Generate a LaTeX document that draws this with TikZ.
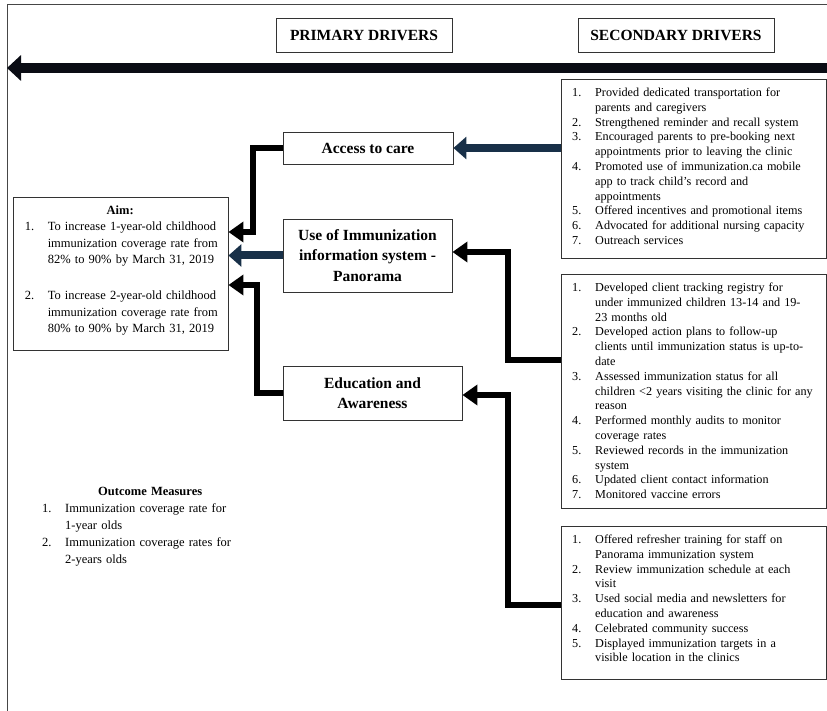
\documentclass[tikz,border=0pt]{standalone}
\usepackage{fontspec}
\setmainfont{Liberation Serif}
\usepackage{xcolor}
\usetikzlibrary{arrows.meta,positioning,calc}
\definecolor{navy}{RGB}{24,48,72}
\definecolor{barblack}{RGB}{10,12,20}
\definecolor{framegray}{RGB}{70,70,70}

\newcommand\secfont{\fontsize{12.2}{14.8}\selectfont}
\newcommand\aimfont{\fontsize{12.5}{16.5}\selectfont}
% numbered list, #1 = extra gap between items, #2 = left margin
\newenvironment{numlist}[2]{%
  \begin{list}{\arabic{enumi}.}{\usecounter{enumi}%
    \setlength\leftmargin{#2}\setlength\labelwidth{19pt}\setlength\labelsep{4pt}%
    \setlength\itemsep{#1}\setlength\parsep{0pt}\setlength\topsep{0pt}\setlength\partopsep{0pt}%
    \renewcommand\makelabel[1]{##1\hfil}}\raggedright}
  {\end{list}}

\tikzset{
  framebox/.style={draw=black!80, line width=0.9pt},
  hdbox/.style={framebox, font=\bfseries\fontsize{15.5}{18}\selectfont, inner sep=0pt, minimum height=34pt},
  pribox/.style={framebox, font=\bfseries\fontsize{15.5}{20.5}\selectfont, align=center, inner sep=0pt},
  secbox/.style={framebox, anchor=north west, minimum width=265pt, inner sep=0pt},
  seclist/.style={anchor=north west, text width=254pt, inner xsep=8pt, inner ysep=2.5pt, font=\secfont},
  navyarrow/.style={draw=navy, line width=8pt, -{Triangle[length=13pt,width=22pt]}},
  blackarrow/.style={draw=black, line width=6pt, -{Triangle[length=15pt,width=20pt]}},
}

\begin{document}
\begin{tikzpicture}[x=1pt, y=-1pt]
\useasboundingbox (0,0) rectangle (827,711);
\draw[framegray, line width=1pt] (7.5,711) -- (7.5,5) -- (827,5);

% headers and main arrow
\node[hdbox, minimum width=176pt] (prim) at (364,35) {PRIMARY DRIVERS};
\node[hdbox, minimum width=196pt] (sec) at (676,35) {SECONDARY DRIVERS};
\coordinate (barR) at (827,68);
\coordinate (barL) at (7,68);
\draw[barblack, line width=9.5pt, -{Triangle[length=14pt,width=25pt]}] (barR) -- (barL);

% aim and outcome
\node[framebox, minimum width=215pt, minimum height=153pt] (aim) at (120.5,273.5) {};
\node[anchor=north west, text width=203pt, inner xsep=6pt, inner ysep=9pt, font=\aimfont] (aimtxt) at (aim.north west) {%
  {\centering\textbf{Aim:}\par}
  \begin{numlist}{19.5pt}{29pt}
  \item To increase 1-year-old childhood\newline immunization coverage rate from\newline 82\% to 90\% by March 31, 2019
  \item To increase 2-year-old childhood\newline immunization coverage rate from\newline 80\% to 90\% by March 31, 2019
  \end{numlist}};
\node[anchor=north west, text width=224pt, inner sep=0pt, font=\fontsize{12.5}{17}\selectfont] (outcome) at (38,487) {%
  {\centering\textbf{Outcome Measures}\par}
  \begin{numlist}{0pt}{27pt}
  \item Immunization coverage rate for\newline 1-year olds
  \item Immunization coverage rates for\newline 2-years olds
  \end{numlist}};

% primary drivers
\node[pribox, minimum width=170pt, minimum height=32pt] (access) at (368,148) {Access to care};
\node[pribox, minimum width=169pt, minimum height=73pt] (usesys) at (367.5,255.5) {Use of Immunization\\information system -\\Panorama};
\node[pribox, minimum width=179pt, minimum height=54pt] (edu) at (372.5,393) {Education and\\Awareness};

% secondary drivers
\node[secbox, minimum height=179pt] (acts1) at (561,79) {};
\node[seclist] (acts1txt) at (acts1.north west) {%
  \begin{numlist}{0pt}{26pt}
  \item Provided dedicated transportation for\newline parents and caregivers
  \item Strengthened reminder and recall system
  \item Encouraged parents to pre-booking next\newline appointments prior to leaving the clinic
  \item Promoted use of immunization.ca mobile\newline app to track child’s record and\newline appointments
  \item Offered incentives and promotional items
  \item Advocated for additional nursing capacity
  \item Outreach services
  \end{numlist}};
\node[secbox, minimum height=234pt] (acts2) at (561,274) {};
\node[seclist] (acts2txt) at (acts2.north west) {%
  \begin{numlist}{0pt}{26pt}
  \item Developed client tracking registry for\newline under immunized children 13-14 and 19-\newline 23 months old
  \item Developed action plans to follow-up\newline clients until immunization status is up-to-\newline date
  \item Assessed immunization status for all\newline children <2 years visiting the clinic for any\newline reason
  \item Performed monthly audits to monitor\newline coverage rates
  \item Reviewed records in the immunization\newline system
  \item Updated client contact information
  \item Monitored vaccine errors
  \end{numlist}};
\node[secbox, minimum height=153pt] (acts3) at (561,526) {};
\node[seclist] (acts3txt) at (acts3.north west) {%
  \begin{numlist}{0pt}{26pt}
  \item Offered refresher training for staff on\newline Panorama immunization system
  \item Review immunization schedule at each\newline visit
  \item Used social media and newsletters for\newline education and awareness
  \item Celebrated community success
  \item Displayed immunization targets in a\newline visible location in the clinics
  \end{numlist}};

% connectors
\draw[navyarrow] (acts1.west |- access.east) -- (access.east);
\draw[navyarrow] (usesys.west) -- (usesys.west -| aim.east);
\draw[blackarrow] (access.west) -- ++(-30,0) |- (aim.east |- 0,232);
\draw[blackarrow] (edu.west) -- ++(-26,0) |- (aim.east |- 0,285);
\draw[blackarrow] (acts2.west |- 0,360) -- ++(-53,0) |- (usesys.east |- 0,252);
\draw[blackarrow] (acts3.west |- 0,605) -- ++(-53,0) |- (edu.east |- 0,395);
\end{tikzpicture}
\end{document}
